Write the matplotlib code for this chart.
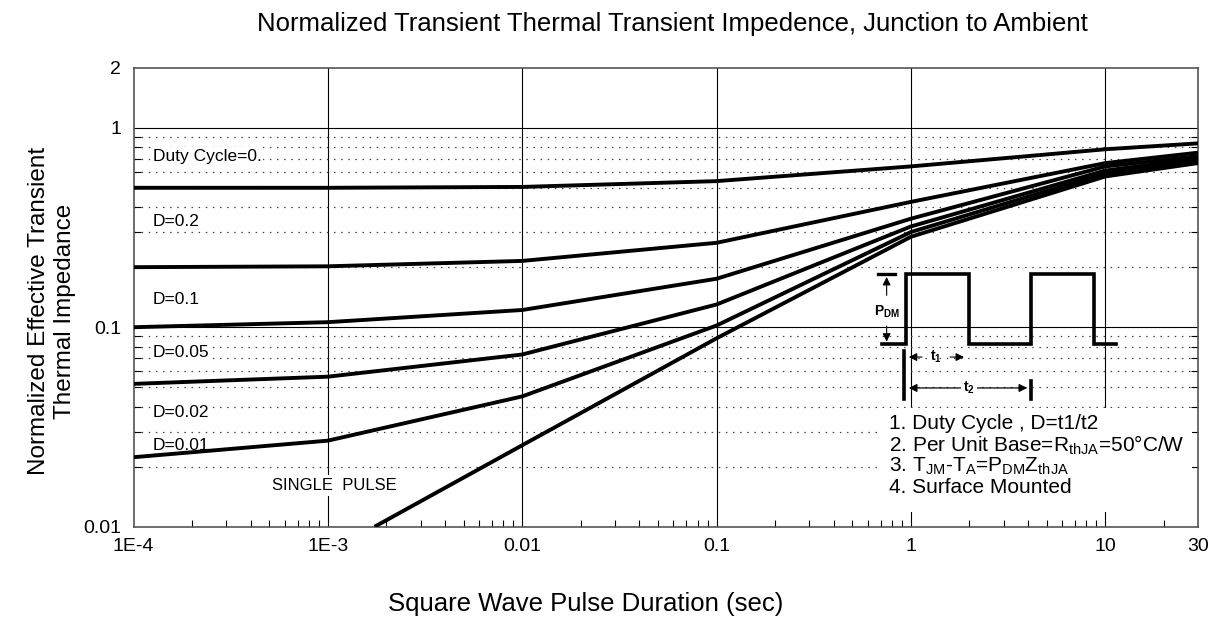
import matplotlib.pyplot as plt
import numpy as np
from matplotlib.ticker import FixedLocator, FixedFormatter, NullFormatter

plt.rcParams['font.family'] = ['Liberation Sans', 'DejaVu Sans']
plt.rcParams['mathtext.fontset'] = 'custom'
plt.rcParams['mathtext.rm'] = 'Liberation Sans'
plt.rcParams['mathtext.it'] = 'Liberation Sans:italic'
plt.rcParams['mathtext.bf'] = 'Liberation Sans:bold'

# pulse duration points (sec)
t_pts = [1e-4, 1e-3, 1e-2, 1e-1, 1, 10, 30]

# normalized Zth for each duty cycle
z_d05 = [0.50, 0.50, 0.505, 0.54, 0.64, 0.78, 0.835]
z_d02 = [0.20, 0.202, 0.215, 0.265, 0.425, 0.665, 0.75]
z_d01 = [0.10, 0.106, 0.122, 0.175, 0.35, 0.64, 0.72]
z_d005 = [0.052, 0.0565, 0.073, 0.13, 0.32, 0.61, 0.70]
z_d002 = [0.0223, 0.027, 0.045, 0.102, 0.30, 0.59, 0.68]

# single pulse
t_single = [1.74e-3, 1e-2, 1e-1, 1, 10, 30]
z_single = [0.01, 0.0256, 0.088, 0.284, 0.57, 0.665]

curve_labels = ['Duty Cycle=0.', 'D=0.2', 'D=0.1', 'D=0.05', 'D=0.02', 'D=0.01']
label_y = [0.72, 0.337, 0.137, 0.0743, 0.0372, 0.0256]

x_ticks = [1e-4, 1e-3, 1e-2, 1e-1, 1, 10, 30]
x_ticklabels = ['1E-4', '1E-3', '0.01', '0.1', '1', '10', '30']
y_ticks = [0.01, 0.1, 1, 2]
y_ticklabels = ['0.01', '0.1', '1', '2']
y_minor = [0.02, 0.03, 0.04, 0.05, 0.06, 0.07, 0.08, 0.09,
           0.2, 0.3, 0.4, 0.5, 0.6, 0.7, 0.8, 0.9]
x_minor = [m * 10.0 ** e for e in range(-4, 2) for m in range(2, 10) if m * 10.0 ** e < 30]

notes = ['1. Duty Cycle , D=t1/t2',
         r'2. Per Unit Base=R$_{\mathregular{thJA}}$=50°C/W',
         r'3. T$_{\mathregular{JM}}$-T$_{\mathregular{A}}$=P$_{\mathregular{DM}}$Z$_{\mathregular{thJA}}$',
         '4. Surface Mounted']

W, H = 1217, 620
fig = plt.figure(figsize=(W / 100, H / 100), dpi=100)
ax = fig.add_axes([133.5 / W, 1 - 526.7 / H, (1198 - 133.5) / W, (526.7 - 67.7) / H])
ax.set_xscale('log')
ax.set_yscale('log')
ax.set_xlim(1e-4, 30)
ax.set_ylim(0.01, 2)

# grid
for v in x_ticks[1:-1]:
    ax.axvline(v, color='black', lw=0.8, zorder=1)
for v in [0.1, 1]:
    ax.axhline(v, color='black', lw=0.8, zorder=1)
for v in y_minor:
    ax.axhline(v, color='#444444', lw=0.9, ls=(0, (1.2, 4.5)), zorder=1)

# curves
for z in [z_d05, z_d02, z_d01, z_d005, z_d002]:
    ax.plot(t_pts, z, color='black', lw=2.8, solid_capstyle='butt', zorder=4)
ax.plot(t_single, z_single, color='black', lw=2.8, solid_capstyle='butt', zorder=4)

for lab, y in zip(curve_labels, label_y):
    ax.text(1.26e-4, y, lab, fontsize=12.5, va='center', ha='left', zorder=3,
            bbox=dict(facecolor='white', edgecolor='none', pad=1.0))
ax.text(1.085e-3, 0.0161, 'SINGLE  PULSE', fontsize=12, va='center', ha='center', zorder=3,
        bbox=dict(facecolor='white', edgecolor='none', pad=2.0))

# ticks
ax.xaxis.set_major_locator(FixedLocator(x_ticks))
ax.xaxis.set_major_formatter(FixedFormatter(x_ticklabels))
ax.xaxis.set_minor_locator(FixedLocator(x_minor))
ax.xaxis.set_minor_formatter(NullFormatter())
ax.yaxis.set_major_locator(FixedLocator(y_ticks))
ax.yaxis.set_major_formatter(FixedFormatter(y_ticklabels))
ax.yaxis.set_minor_locator(FixedLocator(y_minor))
ax.yaxis.set_minor_formatter(NullFormatter())
ax.tick_params(which='both', direction='in', top=False, right=True, labelsize=14, colors='black')
ax.tick_params(which='major', length=0)
ax.tick_params(which='minor', length=5, width=0.8)
ax.tick_params(axis='x', which='major', pad=8)
ax.tick_params(axis='y', which='major', pad=9)
for s in ax.spines.values():
    s.set_color('#555555')
    s.set_linewidth(1.2)

ax.set_xlabel('Square Wave Pulse Duration (sec)', fontsize=18.5)
ax.xaxis.set_label_coords(0.425, -0.142)
ax.set_ylabel('Normalized Effective Transient\nThermal Impedance', fontsize=17.5, linespacing=1.25)
ax.yaxis.set_label_coords(-0.054, 0.47)
fig.text(0.5526, 1 - 24 / H, 'Normalized Transient Thermal Transient Impedence, Junction to Ambient',
         fontsize=18.5, ha='center', va='center')

# notes block
nax = fig.add_axes([880 / W, 1 - 512 / H, (1192 - 880) / W, (512 - 408) / H])
nax.set_facecolor('white')
nax.set_xlim(0, 1)
nax.set_ylim(0, 1)
nax.set_xticks([])
nax.set_yticks([])
for s in nax.spines.values():
    s.set_visible(False)
for i, line in enumerate(notes):
    nax.text(0.03, 0.85 - i * 0.205, line, fontsize=15, va='center', ha='left')

# pulse waveform inset
pax = fig.add_axes([876 / W, 1 - 402 / H, (1122 - 876) / W, (402 - 270) / H])
pax.patch.set_alpha(0)
pax.set_xlim(-0.48, 3.45)
pax.set_ylim(-0.82, 1.06)
pax.axis('off')
wave_t = [-0.38, 0, 0, 1, 1, 2, 2, 3, 3, 3.36]
wave_v = [0, 0, 1, 1, 0, 0, 1, 1, 0, 0]
pax.plot(wave_t, wave_v, color='black', lw=2.6, solid_joinstyle='miter')
pax.plot([-0.45, -0.17], [1, 1], color='black', lw=2.4)
pax.annotate('', xy=(-0.31, 1.0), xytext=(-0.31, 0.66),
             arrowprops=dict(arrowstyle='-|>', color='black', lw=0.8, mutation_scale=12))
pax.annotate('', xy=(-0.31, 0.0), xytext=(-0.31, 0.3),
             arrowprops=dict(arrowstyle='-|>', color='black', lw=0.8, mutation_scale=12))
pax.text(-0.30, 0.47, r'P$_{\mathregular{DM}}$', fontsize=10, fontweight='bold', ha='center', va='center')
pax.plot([-0.03, -0.03], [-0.1, -0.78], color='black', lw=2.6)
pax.plot([2.0, 2.0], [-0.52, -0.78], color='black', lw=2.6)
pax.annotate('', xy=(0.0, -0.18), xytext=(0.3, -0.18),
             arrowprops=dict(arrowstyle='-|>', color='black', lw=0.8, mutation_scale=12))
pax.annotate('', xy=(0.97, -0.18), xytext=(0.66, -0.18),
             arrowprops=dict(arrowstyle='-|>', color='black', lw=0.8, mutation_scale=12))
pax.text(0.48, -0.18, r't$_{\mathregular{1}}$', fontsize=10, fontweight='bold', ha='center', va='center')
pax.annotate('', xy=(0.0, -0.62), xytext=(1.98, -0.62),
             arrowprops=dict(arrowstyle='<|-|>', color='black', lw=0.9, mutation_scale=12))
pax.text(1.0, -0.62, r't$_{\mathregular{2}}$', fontsize=10, fontweight='bold', ha='center', va='center',
         bbox=dict(facecolor='white', edgecolor='none', pad=1.5))

fig.savefig('out.png', dpi=100)
